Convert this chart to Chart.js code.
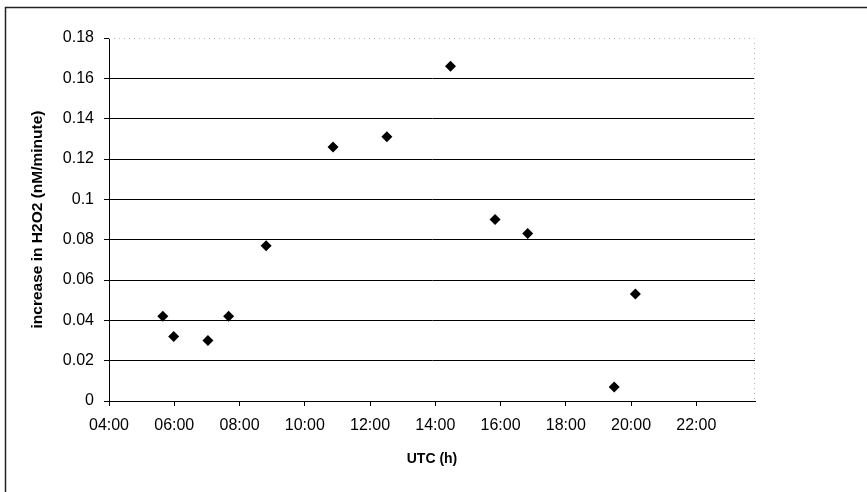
<!DOCTYPE html>
<html>
<head>
<meta charset="utf-8">
<title>H2O2 increase vs UTC</title>
<script src="https://cdn.jsdelivr.net/npm/chart.js"></script>
<style>
  html, body { margin: 0; padding: 0; background: #fff; }
  #wrap { width: 867px; height: 492px; }
</style>
</head>
<body>
<div id="wrap"><canvas id="h2o2Chart" width="867" height="492"></canvas></div>
<script>
// measurement times (UTC) and H2O2 increase rates
const sampleTimes = ['05:39', '05:59', '07:02', '07:40', '08:49', '10:52',
                     '12:31', '14:28', '15:50', '16:50', '19:29', '20:08'];
const h2o2Rates = [0.042, 0.032, 0.030, 0.042, 0.077, 0.126,
                   0.131, 0.166, 0.090, 0.083, 0.007, 0.053];

// axis ranges
const xMinHour = 4, xMaxHour = 23.8, xStepHour = 2;
const yMin = 0, yMax = 0.18, yStep = 0.02;

const FONT = "'Liberation Sans', Arial, sans-serif";

function toHours(t) {
    const [h, m] = t.split(':').map(Number);
    return h + m / 60;
}

function hourLabel(v) {
    const h = Math.round(v);
    return (h < 10 ? '0' : '') + h + ':00';
}

const points = sampleTimes.map((t, i) => ({ x: toHours(t), y: h2o2Rates[i] }));

// outer frame plus dotted top/right edges of the plot area
const framePlugin = {
    id: 'frame',
    afterDraw(chart) {
        const ctx = chart.ctx;
        const a = chart.chartArea;
        ctx.save();
        ctx.strokeStyle = '#222';
        ctx.lineWidth = 1.5;
        ctx.beginPath();
        ctx.moveTo(5.5, 492);
        ctx.lineTo(5.5, 7.5);
        ctx.lineTo(867, 7.5);
        ctx.stroke();

        ctx.strokeStyle = '#b5b5b5';
        ctx.lineWidth = 1;
        ctx.setLineDash([1, 4]);
        ctx.beginPath();
        ctx.moveTo(a.left, a.top + 0.5);
        ctx.lineTo(a.right - 0.5, a.top + 0.5);
        ctx.lineTo(a.right - 0.5, a.bottom);
        ctx.stroke();
        ctx.restore();
    }
};

new Chart(document.getElementById('h2o2Chart'), {
    type: 'scatter',
    data: {
        datasets: [{
            label: 'H2O2',
            data: points,
            pointStyle: 'rectRot',
            pointRadius: 5.5,
            pointHoverRadius: 5.5,
            backgroundColor: '#000',
            borderColor: '#000',
            borderWidth: 0
        }]
    },
    options: {
        responsive: false,
        animation: false,
        devicePixelRatio: 1,
        layout: { padding: { top: 38, right: 112, left: 0, bottom: 0 } },
        plugins: {
            legend: { display: false },
            tooltip: { enabled: false }
        },
        scales: {
            x: {
                type: 'linear',
                min: xMinHour,
                max: xMaxHour,
                afterFit(scale) { scale.height = 91; },
                grid: {
                    drawOnChartArea: false,
                    drawTicks: true,
                    tickLength: 5,
                    tickColor: '#000'
                },
                border: { color: '#000', width: 1 },
                ticks: {
                    stepSize: xStepHour,
                    includeBounds: false,
                    padding: 10,
                    color: '#000',
                    font: { family: FONT, size: 16 },
                    callback: hourLabel
                },
                title: {
                    display: true,
                    text: 'UTC (h)',
                    color: '#000',
                    font: { family: FONT, size: 14, weight: 'bold' },
                    padding: { top: 0, bottom: 24 }
                }
            },
            y: {
                min: yMin,
                max: yMax,
                afterFit(scale) { scale.width = 109; },
                grid: {
                    color: c => (c.tick && c.tick.value >= yMax - 1e-9) ? 'rgba(0,0,0,0)' : '#000',
                    lineWidth: 1,
                    tickLength: 5,
                    tickColor: '#000'
                },
                border: { color: '#000', width: 1 },
                ticks: {
                    stepSize: yStep,
                    padding: 10,
                    color: '#000',
                    font: { family: FONT, size: 16 },
                    callback: v => String(+v.toFixed(2))
                },
                title: {
                    display: true,
                    text: 'increase in H2O2 (nM/minute)',
                    color: '#000',
                    font: { family: FONT, size: 15.5, weight: 'bold' },
                    padding: { top: 28, bottom: 0 }
                }
            }
        }
    },
    plugins: [framePlugin]
});
</script>
</body>
</html>
